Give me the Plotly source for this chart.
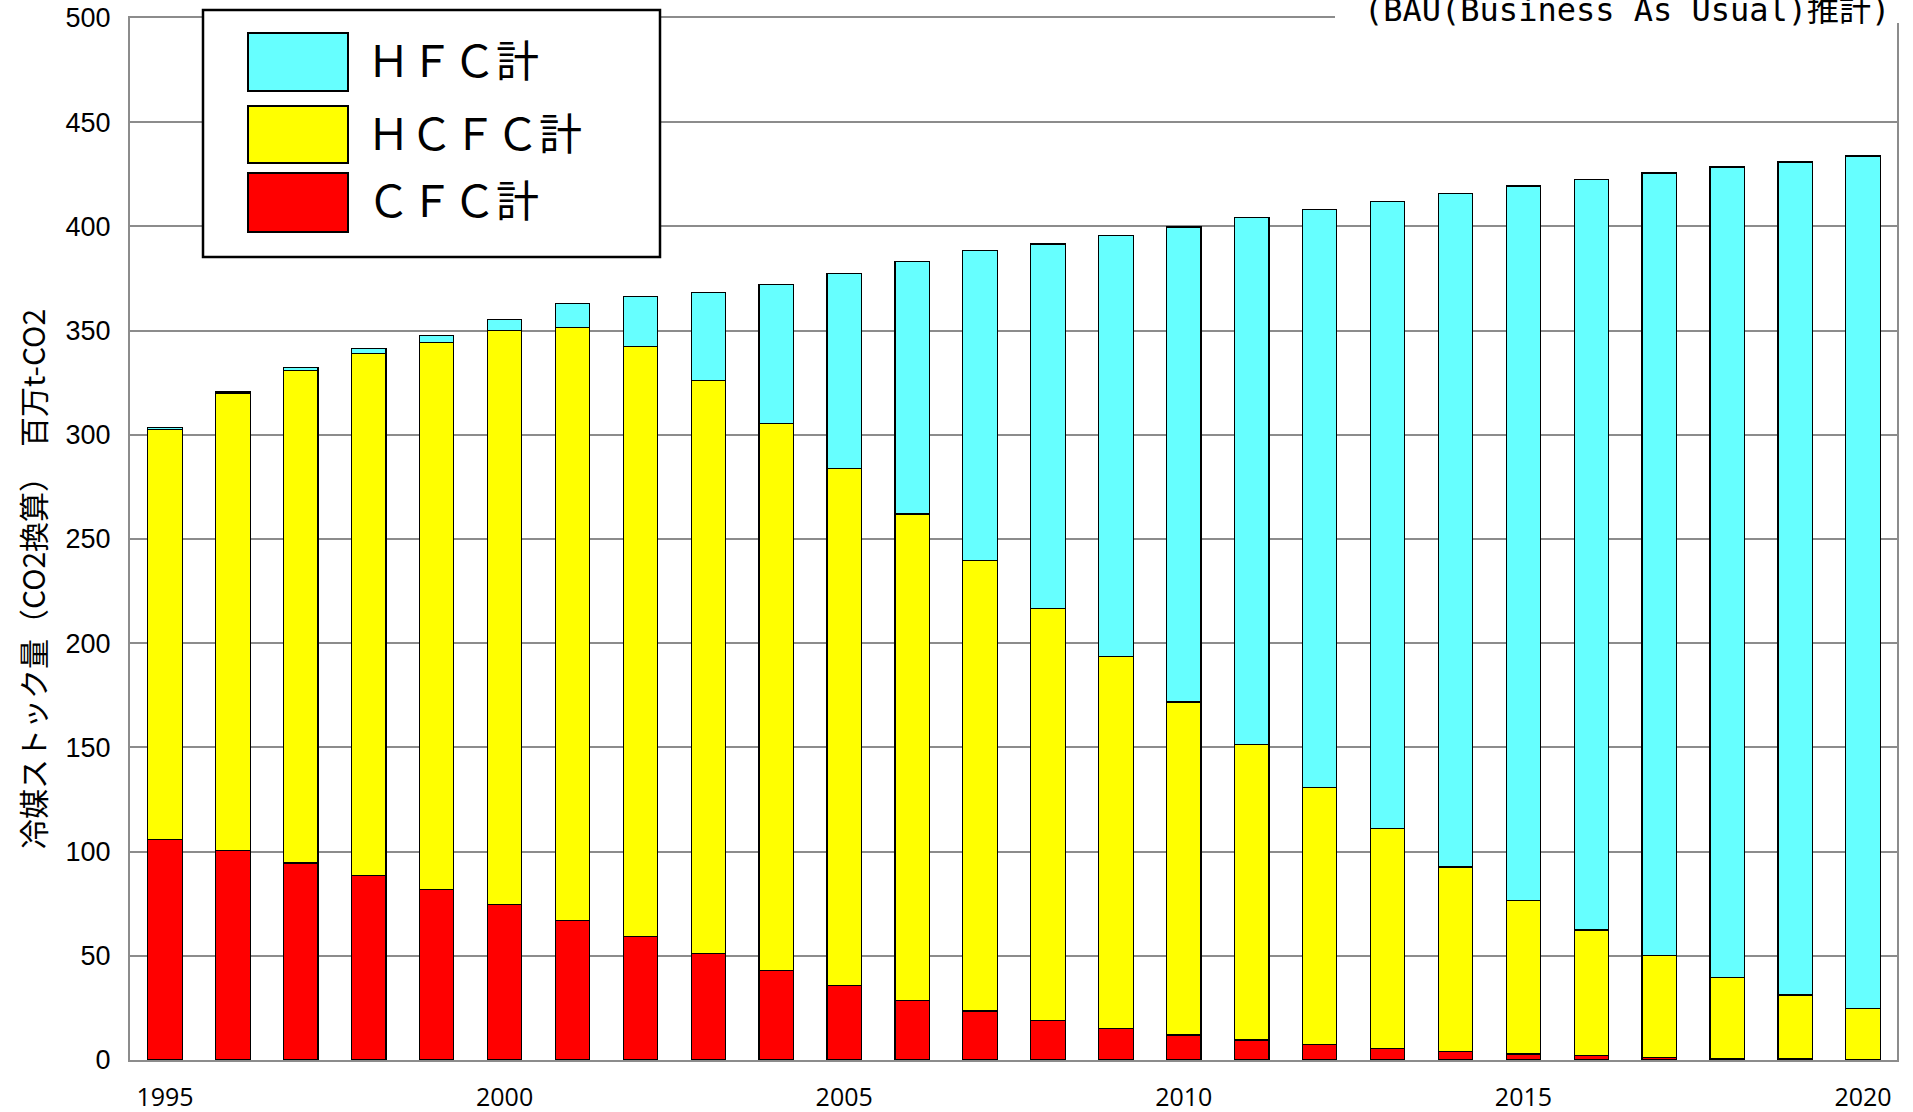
import plotly.graph_objects as go

# ---- data ----
years = list(range(1995, 2021))
cfc = [106.0, 100.4, 94.5, 88.7, 81.8, 74.6, 66.9, 59.2, 51.1, 43.0, 35.7, 28.5, 23.5,
       18.9, 15.0, 12.0, 9.6, 7.5, 5.6, 4.1, 2.9, 2.1, 1.2, 0.9, 0.6, 0.3]
hcfc = [196.7, 219.3, 236.3, 250.3, 262.5, 275.5, 284.4, 283.3, 275.0, 262.4, 248.3, 233.5, 216.2,
        197.8, 178.5, 159.8, 141.9, 123.4, 105.6, 88.5, 73.6, 60.3, 49.1, 38.8, 30.6, 24.4]
hfc = [0.8, 0.8, 1.6, 2.3, 3.5, 5.3, 11.7, 24.0, 42.2, 66.6, 93.4, 121.2, 148.8,
       174.9, 202.1, 227.9, 252.7, 277.1, 300.6, 323.0, 342.9, 360.2, 375.3, 388.8, 399.7, 409.1]
series_names = ["ＣＦＣ計", "ＨＣＦＣ計", "ＨＦＣ計"]
series_colors = ["#FF0000", "#FFFF00", "#66FFFF"]
xtick_vals = [1995, 2000, 2005, 2010, 2015, 2020]
ytick_vals = [0, 50, 100, 150, 200, 250, 300, 350, 400, 450, 500]
y_title = "冷媒ストック量（CO2換算）　百万t-CO2"
note_text = "(BAU(Business As Usual)推計)"

# ---- geometry (pixels) ----
W, H = 1913, 1112
L, R, T, B = 130, 1897, 18, 1060


def px(x):
    return (x - L) / (R - L)


def py(y):
    return (B - y) / (B - T)


fig = go.Figure()
for name, vals, col in zip(series_names, [cfc, hcfc, hfc], series_colors):
    fig.add_trace(go.Bar(x=years, y=vals, name=name,
                         marker=dict(color=col, line=dict(color="#000000", width=1.2))))

shapes = []
annotations = []

# custom legend
shapes.append(dict(type="rect", xref="paper", yref="paper", layer="above",
                   x0=px(203), x1=px(660), y0=py(257), y1=py(10),
                   fillcolor="white", line=dict(color="black", width=2.5)))
legend_rows = [("ＨＦＣ計", "#66FFFF", 33, 91), ("ＨＣＦＣ計", "#FFFF00", 106, 163),
               ("ＣＦＣ計", "#FF0000", 173, 232)]
for label, col, y0, y1 in legend_rows:
    shapes.append(dict(type="rect", xref="paper", yref="paper", layer="above",
                       x0=px(248), x1=px(348), y0=py(y1), y1=py(y0),
                       fillcolor=col, line=dict(color="black", width=2)))
    annotations.append(dict(xref="paper", yref="paper", x=px(365), y=py((y0 + y1) / 2 - 4),
                            xanchor="left", yanchor="middle", showarrow=False, text=label,
                            font=dict(family="Noto Sans CJK JP", size=43, color="black")))

# top-right note with white background (cut at the top edge, as in the original)
shapes.append(dict(type="rect", xref="paper", yref="paper", layer="above",
                   x0=px(1335), x1=px(1930), y0=py(23), y1=py(-20),
                   fillcolor="white", line=dict(width=0)))
annotations.append(dict(xref="paper", yref="paper", x=px(1362), y=py(31),
                        xanchor="left", yanchor="bottom", showarrow=False, text=note_text,
                        font=dict(family="DejaVu Sans Mono, Noto Sans CJK JP", size=32, color="black")))

# y-axis title
annotations.append(dict(xref="paper", yref="paper", x=px(32), y=py(579),
                        xanchor="center", yanchor="middle", showarrow=False, text=y_title,
                        textangle=-90,
                        font=dict(family="Noto Sans CJK JP", size=30, color="black")))

fig.update_layout(
    width=W, height=H,
    margin=dict(l=L, r=W - R, t=T, b=H - B, pad=0, autoexpand=False),
    barmode="stack", bargap=0.493,
    plot_bgcolor="white", paper_bgcolor="white",
    showlegend=False,
    shapes=shapes, annotations=annotations,
)
fig.update_xaxes(range=[1994.485, 2020.5], tickmode="array", tickvals=xtick_vals,
                 ticktext=[str(v) for v in xtick_vals], automargin=False,
                 showgrid=False, showline=True, linecolor="#8c8c8c", linewidth=2, mirror=True,
                 ticks="", ticklabelstandoff=14,
                 tickfont=dict(family="Open Sans", size=25, color="black"))
fig.update_yaxes(range=[0, 500], tickmode="array", tickvals=ytick_vals, automargin=False,
                 showgrid=True, gridcolor="#8c8c8c", gridwidth=2,
                 showline=True, linecolor="#8c8c8c", linewidth=2, mirror=True,
                 zeroline=False, ticks="", ticklabelstandoff=12,
                 tickfont=dict(family="Liberation Sans", size=27, color="black"))

fig.write_html("out.html", config={"displayModeBar": False},
               post_script="document.body.style.margin='0';")
